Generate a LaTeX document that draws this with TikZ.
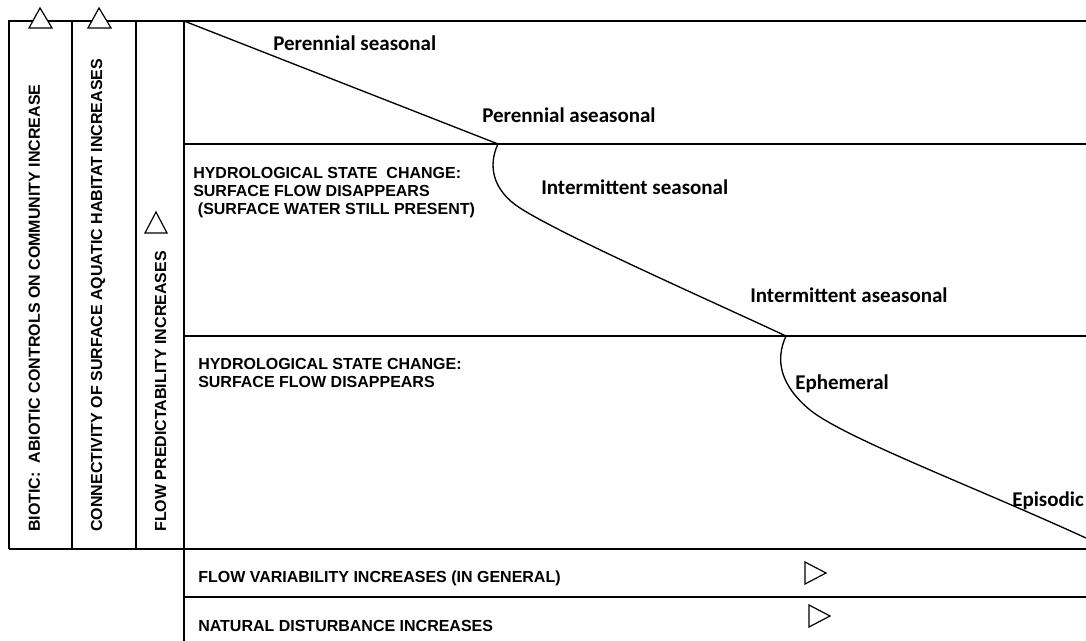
\documentclass[tikz,border=0pt]{standalone}
\usepackage{fontspec}
\setmainfont{Liberation Sans}
\newfontfamily\regimefont{Carlito}
\usetikzlibrary{positioning}
\tikzset{
  gridline/.style={line width=1.5pt, draw=black},
  regimeline/.style={line width=1pt, draw=black},
  marker/.style={line width=0.9pt, draw=black, fill=white},
  capsnote/.style={font=\fontsize{12}{13.8}\selectfont\bfseries, inner sep=0pt,
                   align=left, anchor=base west},
  sidelabel/.style={font=\fontsize{12}{13.8}\selectfont\bfseries, inner sep=0pt,
                    rotate=90, anchor=base west},
  regimelabel/.style={font=\regimefont\fontsize{15.75}{18}\selectfont\bfseries,
                      inner sep=0pt, anchor=base west},
}

\begin{document}
\begin{tikzpicture}[x=0.75pt, y=-0.75pt]
  \useasboundingbox (0,0) rectangle (1086,641);

  % Frame and columns
  \draw[gridline] (9,549) -- (9,21) -- (1086,21);
  \draw[gridline] (72,21) -- (72,549);
  \draw[gridline] (136,21) -- (136,549);
  \draw[gridline] (184,21) -- (184,641);
  \draw[gridline] (184,144) -- (1086,144);
  \draw[gridline] (184,336) -- (1086,336);
  \draw[gridline] (9,549) -- (1086,549);
  \draw[gridline] (184,597) -- (1086,597);

  % Flow regime line, with a break at each state change
  \coordinate (r0)  at (184,21);
  \coordinate (r1)  at (498,144);
  \coordinate (r1b) at (520,208);
  \coordinate (r2)  at (786,336);
  \coordinate (r2b) at (810,410);
  \coordinate (r3)  at (1086,538);
  \draw[regimeline] (r0) -- (r1)
        .. controls (488,165) and (492,190) .. (r1b)
        .. controls (560,234) and (700,296) .. (r2)
        .. controls (775,360) and (780,385) .. (r2b)
        .. controls (845,438) and (970,485) .. (r3);

  % Direction markers
  \draw[marker] (29,28) -- (40,8) -- (52,28) -- cycle;
  \draw[marker] (88,28) -- (99,8) -- (111,28) -- cycle;
  \draw[marker] (145,233) -- (156,212) -- (167,233) -- cycle;
  \draw[marker] (805,562) -- (826,573) -- (805,584) -- cycle;
  \draw[marker] (809,605) -- (830,616) -- (809,627) -- cycle;

  % Column headings
  \node[sidelabel] (biotic) at (40,532) {BIOTIC:~ ABIOTIC CONTROLS ON COMMUNITY INCREASE};
  \node[sidelabel] (connect) at (102,532) {CONNECTIVITY OF SURFACE AQUATIC HABITAT INCREASES};
  \node[sidelabel] (predict) at (166,532) {FLOW PREDICTABILITY INCREASES};

  % Regime labels
  \node[regimelabel] (perseas)  at (273,51)   {Perennial seasonal};
  \node[regimelabel] (peraseas) at (482,123)  {Perennial aseasonal};
  \node[regimelabel] (intseas)  at (541,195)  {Intermittent seasonal};
  \node[regimelabel] (intaseas) at (750,303)  {Intermittent aseasonal};
  \node[regimelabel] (ephem)    at (795,390)  {Ephemeral};
  \node[regimelabel] (episod)   at (1012,507) {Episodic};

  % State changes and bottom rows (base = last line)
  \node[capsnote] (changeone) at (193,215)
       {HYDROLOGICAL STATE~ CHANGE:\\SURFACE FLOW DISAPPEARS\\\hspace*{3.5pt}(SURFACE WATER STILL PRESENT)};
  \node[capsnote] (changetwo) at (198,388)
       {HYDROLOGICAL STATE CHANGE:\\SURFACE FLOW DISAPPEARS};
  \node[capsnote] (flowvar) at (198,583) {FLOW VARIABILITY INCREASES (IN GENERAL)};
  \node[capsnote] (disturb) at (198,631) {NATURAL DISTURBANCE INCREASES};
\end{tikzpicture}
\end{document}
